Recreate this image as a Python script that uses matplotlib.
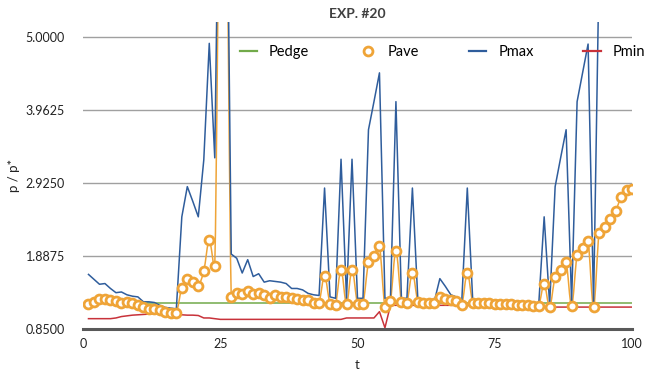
import numpy as np
import matplotlib
matplotlib.use("Agg")
import matplotlib.pyplot as plt
from matplotlib.path import Path
from matplotlib.patches import PathPatch
from matplotlib.lines import Line2D

plt.rcParams["font.family"] = ["Lato", "DejaVu Sans"]

# data (t = 1..100)
t = list(range(1, 101))

pedge = [1.21] * 100

pave = [1.20, 1.23, 1.27, 1.27, 1.26, 1.24, 1.22, 1.23, 1.21, 1.185,
        1.16, 1.13, 1.13, 1.11, 1.09, 1.07, 1.07,
        1.43, 1.55, 1.51, 1.46, 1.67, 2.11, 1.74,
        8.0, 8.0,
        1.30, 1.35, 1.34, 1.38, 1.34, 1.36, 1.32, 1.29, 1.32, 1.30,
        1.30, 1.29, 1.275, 1.26, 1.25, 1.22, 1.22,
        1.60, 1.20, 1.19, 1.69, 1.20, 1.69, 1.20, 1.20, 1.79, 1.88,
        2.03, 1.15, 1.24, 1.955, 1.23, 1.22, 1.64,
        1.23, 1.22, 1.22, 1.22, 1.30, 1.27, 1.26, 1.24, 1.185, 1.64,
        1.21, 1.21, 1.215, 1.21, 1.205, 1.20, 1.20, 1.195, 1.19, 1.185,
        1.18, 1.175, 1.17,
        1.48, 1.16, 1.59, 1.69, 1.80, 1.175, 1.90, 1.99, 2.10, 1.16,
        2.21, 2.30, 2.41, 2.52, 2.72, 2.82, 2.84]

pmax = [1.62, 1.55, 1.48, 1.49, 1.42, 1.36, 1.37, 1.33, 1.31, 1.30,
        1.23, 1.23, 1.22, 1.18, 1.15, 1.14, 1.13,
        2.44, 2.87, 2.66, 2.44, 3.25, 4.91, 3.28,
        9.0, 9.0,
        1.91, 1.85, 1.64, 1.83, 1.59, 1.63, 1.51, 1.53, 1.52, 1.51,
        1.49, 1.42, 1.42, 1.40, 1.35, 1.33, 1.32,
        2.85, 1.30, 1.28, 3.26, 1.28, 3.26, 1.28, 1.28, 3.68, 4.08,
        4.49, 1.28, 1.28, 4.08, 1.28, 1.28, 2.85,
        1.25, 1.24, 1.24, 1.24, 1.56, 1.45, 1.33, 1.30, 1.25, 2.85,
        1.23, 1.23, 1.23, 1.22, 1.22, 1.21, 1.21, 1.21, 1.20, 1.20,
        1.19, 1.19, 1.18,
        2.44, 1.19, 2.87, 3.28, 3.68, 1.23, 4.08, 4.49, 4.90, 1.21,
        6.0, 6.0, 6.0, 6.0, 6.0, 6.0, 6.0]

pmin = ([0.99] * 5 +
        [1.00, 1.02, 1.03, 1.04, 1.045, 1.05, 1.055, 1.06, 1.06, 1.06,
         1.055, 1.05, 1.045, 1.04, 1.04, 1.035, 1.00] +
        [1.00, 0.99, 0.98, 0.98] +
        [0.98] * 21 +
        [1.00] * 6 +
        [1.09, 0.86] +
        [1.18] * 15 +
        [1.17] * 13 +
        [1.155] * 17)

yticks = [0.85, 1.8875, 2.925, 3.9625, 5.0]
xticks = [0, 25, 50, 75, 100]

c_edge = "#72AA4A"
c_ave = "#EFA437"
c_max = "#2F5D9C"
c_min = "#C8323A"

YMIN, YMAX = 0.85, 5.214
PX_X, PX_Y = 5.49, 70.1   # pixels per unit, used for the smoothing only


def smooth_path(xs, ys):
    # Excel like smoothed line: catmull-rom bezier, handle capped at half the chord
    pts = np.column_stack([xs, ys]).astype(float)
    scr = pts * [PX_X, PX_Y]
    n = len(pts)

    def dist(a, b):
        return np.hypot(*(scr[a] - scr[b]))

    verts = [pts[0]]
    codes = [Path.MOVETO]
    for i in range(n - 1):
        a, b = max(i - 1, 0), min(i + 2, n - 1)
        d12 = dist(i, i + 1)
        d02, d13 = dist(a, i + 1), dist(i, b)
        f1 = 1 / 6 if d02 / 6 <= d12 / 2 else d12 / (2 * d02)
        f2 = 1 / 6 if d13 / 6 <= d12 / 2 else d12 / (2 * d13)
        c1 = pts[i] + (pts[i + 1] - pts[a]) * f1
        c2 = pts[i + 1] - (pts[b] - pts[i]) * f2
        verts += [c1, c2, pts[i + 1]]
        codes += [Path.CURVE4] * 3
    return Path(verts, codes)


fig = plt.figure(figsize=(6.49, 3.73), dpi=100)
ax = fig.add_axes([83 / 649, 1 - 328.5 / 373, 549 / 649, 306.5 / 373])

ax.plot(t, pedge, color=c_edge, lw=1.1, zorder=3)
ax.add_patch(PathPatch(smooth_path(t, pave), fill=False, edgecolor=c_ave,
                       lw=1.1, zorder=4))
ax.plot(t, pmax, color=c_max, lw=1.1, zorder=5)
ax.plot(t, pmin, color=c_min, lw=1.1, zorder=6)
ax.plot(t, pave, ls="none", marker="o", ms=6.4, mfc="white", mec=c_ave,
        mew=2.0, zorder=7)

ax.set_xlim(0, 100)
ax.set_ylim(YMIN, YMAX)
ax.set_yticks(yticks)
ax.set_yticklabels(["%.4f" % v for v in yticks])
ax.set_xticks(xticks)
ax.tick_params(axis="both", length=0, labelsize=9, colors="#222222")
ax.tick_params(axis="y", pad=13)
ax.tick_params(axis="x", pad=7)

for s in ["left", "right", "top"]:
    ax.spines[s].set_visible(False)
ax.spines["bottom"].set_color("#595959")
ax.spines["bottom"].set_linewidth(2.2)
ax.spines["bottom"].set_zorder(8)
ax.yaxis.grid(True, color="#A0A0A0", lw=1.0)
ax.set_axisbelow(True)

ax.set_xlabel("t", fontsize=9.5, color="#222222", labelpad=6)
ax.set_ylabel("p / p*", fontsize=9.5, color="#222222")
ax.yaxis.set_label_coords(-0.114, 0.5)
fig.text(357 / 649, 1 - 14 / 373, "EXP. #20", ha="center", va="center",
         fontsize=10, fontweight="bold", color="#404040")

handles = [
    Line2D([], [], color=c_edge, lw=1.6),
    Line2D([], [], ls="none", marker="o", ms=6.4, mfc="white", mec=c_ave, mew=2.0),
    Line2D([], [], color=c_max, lw=1.6),
    Line2D([], [], color=c_min, lw=1.6),
]
fig.legend(handles, ["Pedge", "Pave", "Pmax", "Pmin"], ncol=4, frameon=False,
           loc="center left", bbox_to_anchor=(234 / 649, 1 - 52 / 373),
           fontsize=10.5, handlelength=1.2, handletextpad=0.8,
           columnspacing=3.4, borderaxespad=0)

fig.savefig("out.png", dpi=100)
